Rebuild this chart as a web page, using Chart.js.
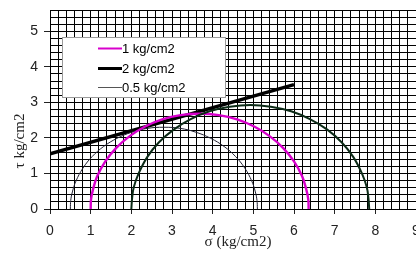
<!DOCTYPE html>
<html><head><meta charset="utf-8">
<script src="https://cdn.jsdelivr.net/npm/chart.js@4/dist/chart.umd.min.js"></script>
<style>html,body{margin:0;padding:0;background:#fff;overflow:hidden}
#wrap{position:relative;width:416px;height:253px}</style></head>
<body><div id="wrap"><canvas id="c" width="416" height="253" style="width:416px;height:253px"></canvas></div>
<script>
// ---- data ----
const seriesLabels = ['1 kg/cm2', '2 kg/cm2', '0.5 kg/cm2'];
const xTitle = 'σ (kg/cm2)';
const yTitle = 'τ kg/cm2';
const xTickValues = [0,1,2,3,4,5,6,7,8,9];
const yTickValues = [0,1,2,3,4,5];

// envelope line
const envX = [0, 6.0];
const envY = [1.55, 3.5];

// 1 kg/cm2 circle (magenta)
const c1X = [1.00,1.01,1.06,1.16,1.36,1.63,1.96,2.34,2.76,3.21,3.68,4.15,4.60,5.02,5.40,5.73,6.00,6.20,6.30,6.35,6.36];
const c1Y = [0,0.28,0.56,0.92,1.34,1.72,2.05,2.32,2.52,2.64,2.68,2.64,2.52,2.32,2.05,1.72,1.34,0.92,0.56,0.28,0];

// 2 kg/cm2 circle (dark green)
const c2X = [2.00,2.02,2.06,2.18,2.39,2.68,3.05,3.46,3.92,4.42,4.93,5.43,5.93,6.39,6.81,7.17,7.46,7.67,7.79,7.83,7.85];
const c2Y = [0,0.31,0.61,1.00,1.46,1.88,2.24,2.53,2.75,2.88,2.93,2.88,2.75,2.53,2.24,1.88,1.46,1.00,0.61,0.31,0];

// 0.5 kg/cm2 circle (thin dark)
const c05X = [0.50,0.51,0.55,0.64,0.81,1.04,1.32,1.65,2.01,2.40,2.80,3.20,3.59,3.95,4.28,4.56,4.79,4.96,5.05,5.09,5.10];
const c05Y = [0,0.24,0.48,0.79,1.15,1.48,1.76,1.99,2.16,2.27,2.30,2.27,2.16,1.99,1.76,1.48,1.15,0.79,0.48,0.24,0];

const pts = (xs, ys) => xs.map((x, i) => ({x, y: ys[i]}));
const isInt = v => Math.abs(v - Math.round(v)) < 1e-6;

const colors = ['#d800cc', '#0b2a16', '#222233'];
const legendWidths = [2, 3, 1];

const overlay = {
  id: 'overlay',
  afterDraw(chart) {
    const ctx = chart.ctx;
    ctx.save();
    // legend box
    const bx = 62, by = 37, bw = 164, bh = 61;
    ctx.fillStyle = '#fff';
    ctx.fillRect(bx, by, bw, bh);
    ctx.strokeStyle = '#9a9a9a';
    ctx.lineWidth = 1;
    ctx.strokeRect(bx + 0.5, by + 0.5, bw - 1, bh - 1);
    const rows = [48.5, 68.5, 87.5];
    const legColors = ['#d800cc', '#000000', '#555555'];
    ctx.font = '13px "Liberation Sans", Arial, sans-serif';
    ctx.textBaseline = 'middle';
    ctx.textAlign = 'left';
    seriesLabels.forEach((lab, i) => {
      ctx.strokeStyle = legColors[i];
      ctx.lineWidth = legendWidths[i];
      ctx.beginPath();
      ctx.moveTo(98, rows[i]);
      ctx.lineTo(122, rows[i]);
      ctx.stroke();
      ctx.fillStyle = '#000';
      ctx.fillText(lab, 122, rows[i] + 0.5);
    });
    // axis titles
    ctx.fillStyle = '#222';
    ctx.font = '15px "Liberation Serif", "Times New Roman", serif';
    ctx.textAlign = 'center';
    ctx.fillText(xTitle, 238, 242);
    ctx.translate(20, 141);
    ctx.rotate(-Math.PI / 2);
    ctx.fillText(yTitle, 0, 0);
    ctx.restore();
  }
};

new Chart(document.getElementById('c'), {
  type: 'scatter',
  data: {
    datasets: [
      {label: seriesLabels[0], data: pts(c1X, c1Y), showLine: true, borderColor: colors[0], borderWidth: 2.4, pointRadius: 0, tension: 0.4, order: 2},
      {label: seriesLabels[1], data: pts(c2X, c2Y), showLine: true, borderColor: colors[1], borderWidth: 2, pointRadius: 0, tension: 0.4, order: 1},
      {label: seriesLabels[2], data: pts(c05X, c05Y), showLine: true, borderColor: colors[2], borderWidth: 1, pointRadius: 0, tension: 0.4, order: 3},
      {label: 'envelope', data: pts(envX, envY), showLine: true, borderColor: '#000', borderWidth: 3.5, pointRadius: 0, order: 4}
    ]
  },
  options: {
    responsive: false,
    animation: false,
    devicePixelRatio: 1,
    layout: {padding: {top: 10, left: 0, right: 0, bottom: 0}},
    plugins: {legend: {display: false}, tooltip: {enabled: false}},
    scales: {
      x: {
        type: 'linear', min: 0, max: 9,
        afterFit(s) { s.paddingLeft = 0; s.paddingRight = 0; s.height = 44; },
        ticks: {stepSize: 0.2, autoSkip: false, maxRotation: 0, padding: 9, color: '#222',
          font: {family: '"Liberation Sans", Arial, sans-serif', size: 14},
          callback: v => (isInt(v) && xTickValues.includes(Math.round(v))) ? String(Math.round(v)) : ''},
        grid: {color: '#000', lineWidth: 1, tickLength: 5,
          tickColor: c => isInt(c.tick.value) ? '#222' : 'rgba(0,0,0,0)'},
        border: {color: '#000'}
      },
      y: {
        type: 'linear', min: 0, max: 5.6,
        afterFit(s) { s.width = 50; s.paddingTop = 0; s.paddingBottom = 0; },
        ticks: {stepSize: 0.2, autoSkip: false, padding: 6, color: '#222',
          font: {family: '"Liberation Sans", Arial, sans-serif', size: 14},
          callback: v => (isInt(v) && yTickValues.includes(Math.round(v))) ? String(Math.round(v)) : ''},
        grid: {color: '#000', lineWidth: 1, tickLength: 6,
          tickColor: c => isInt(c.tick.value) ? '#222' : 'rgba(0,0,0,0)'},
        border: {color: '#000'}
      }
    }
  },
  plugins: [overlay]
});
</script>
</body></html>
